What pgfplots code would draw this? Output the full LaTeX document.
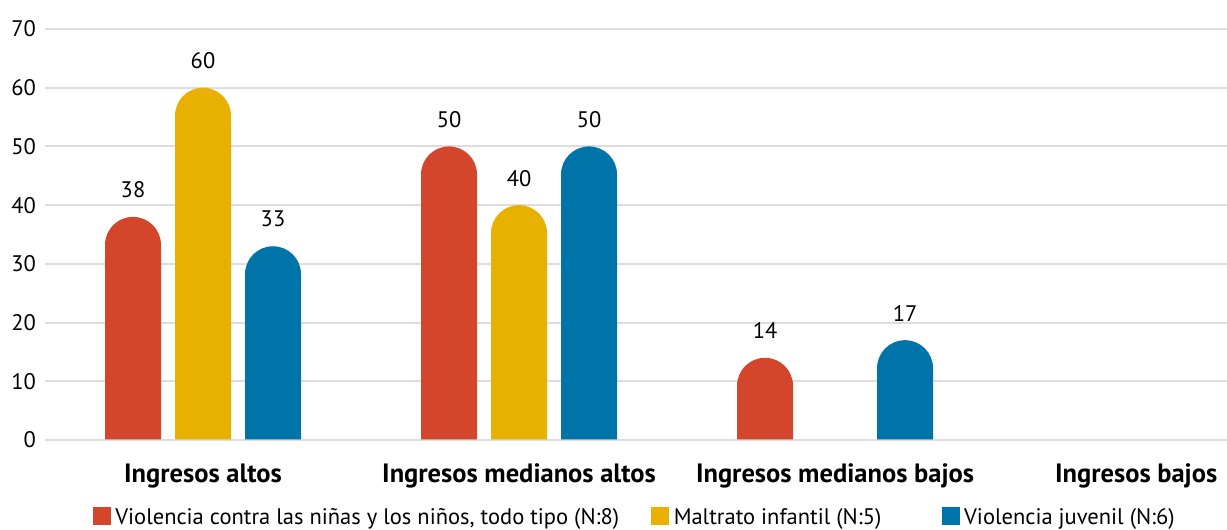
\documentclass[border=0pt]{standalone}
\usepackage{fontspec}
\setmainfont{PT Sans}
\usepackage{pgfplots}
\usepackage{pgfplotstable}
\pgfplotsset{compat=1.18}

\definecolor{cRed}{RGB}{212,70,43}
\definecolor{cYel}{RGB}{232,176,0}
\definecolor{cBlue}{RGB}{0,115,168}
\definecolor{gridc}{RGB}{221,221,221}

% bar with a round top: the dome's top sits on the data point,
% the body runs down and is clipped by the axis at y = 0
\pgfdeclareplotmark{domebar}{%
  \pgfpathmoveto{\pgfqpoint{-28pt}{-700pt}}%
  \pgfpathlineto{\pgfqpoint{-28pt}{-28pt}}%
  \pgfpatharc{180}{0}{28pt}%
  \pgfpathlineto{\pgfqpoint{28pt}{-700pt}}%
  \pgfpathclose
  \pgfusepathqfill}

\pgfplotstableread{
x v
0 38
1 50
2 14
}\tabTodo
\pgfplotstableread{
x v
0 60
1 40
}\tabMaltrato
\pgfplotstableread{
x v
0 33
1 50
2 17
}\tabJuvenil

\newcommand\lblfont{\fontsize{22.5}{26}\selectfont}
\newcommand\catfont{\fontsize{26.5}{30}\selectfont\bfseries}

\pgfplotsset{
  valuelabels/.style={
    nodes near coords,
    every node near coord/.append style={font=\lblfont, text=black,
      anchor=center, inner sep=0pt, yshift=27pt}},
}

\begin{document}
\begin{tikzpicture}
\begin{axis}[
  scale only axis, width=1182pt, height=411pt,
  xmin=-0.5, xmax=3.2405, ymin=0, ymax=70,
  axis line style={draw=none},
  major tick length=0pt,
  ymajorgrids, grid style={gridc, line width=2pt},
  ytick={0,10,...,70},
  xtick={0,1,2,2.953},
  xticklabels={Ingresos altos, Ingresos medianos altos, Ingresos medianos bajos, Ingresos bajos},
  /pgf/number format/assume math mode=true,
  yticklabel style={font=\lblfont, anchor=east, inner sep=0pt, xshift=-9pt},
  xticklabel style={font=\catfont, anchor=base, inner sep=0pt, yshift=-42pt},
  clip marker paths=true,
  legend columns=3,
  legend image code/.code={\fill[#1] (0pt,-7pt) rectangle (17pt,10pt);},
  legend style={at={(0.0406,-0.1855)}, anchor=west, draw=none, fill=none,
    inner sep=0pt, outer sep=0pt, font=\lblfont, column sep=0pt,
    nodes={inner sep=0pt},
    /tikz/every odd column/.style={column sep=5pt}},
]
\addplot[only marks, mark=domebar, color=cRed, mark options={xshift=-70pt}, valuelabels]
  table[x=x, y=v] {\tabTodo};
\addlegendentry{\makebox[536pt][l]{Violencia contra las niñas y los niños, todo tipo (N:8)}}
\addplot[only marks, mark=domebar, color=cYel, valuelabels]
  table[x=x, y=v] {\tabMaltrato};
\addlegendentry{\makebox[268pt][l]{Maltrato infantil (N:5)}}
\addplot[only marks, mark=domebar, color=cBlue, mark options={xshift=70pt}, valuelabels]
  table[x=x, y=v] {\tabJuvenil};
\addlegendentry{Violencia juvenil (N:6)}
% baseline drawn over the foot of the bars
\addplot[forget plot, no marks, draw=gridc, opacity=0.6, line width=2pt]
  coordinates {(-0.5,0) (3.2405,0)};
\end{axis}
\pgfresetboundingbox
\path[use as bounding box] (-45pt,-90pt) rectangle (1182pt,440pt);
\end{tikzpicture}
\end{document}
